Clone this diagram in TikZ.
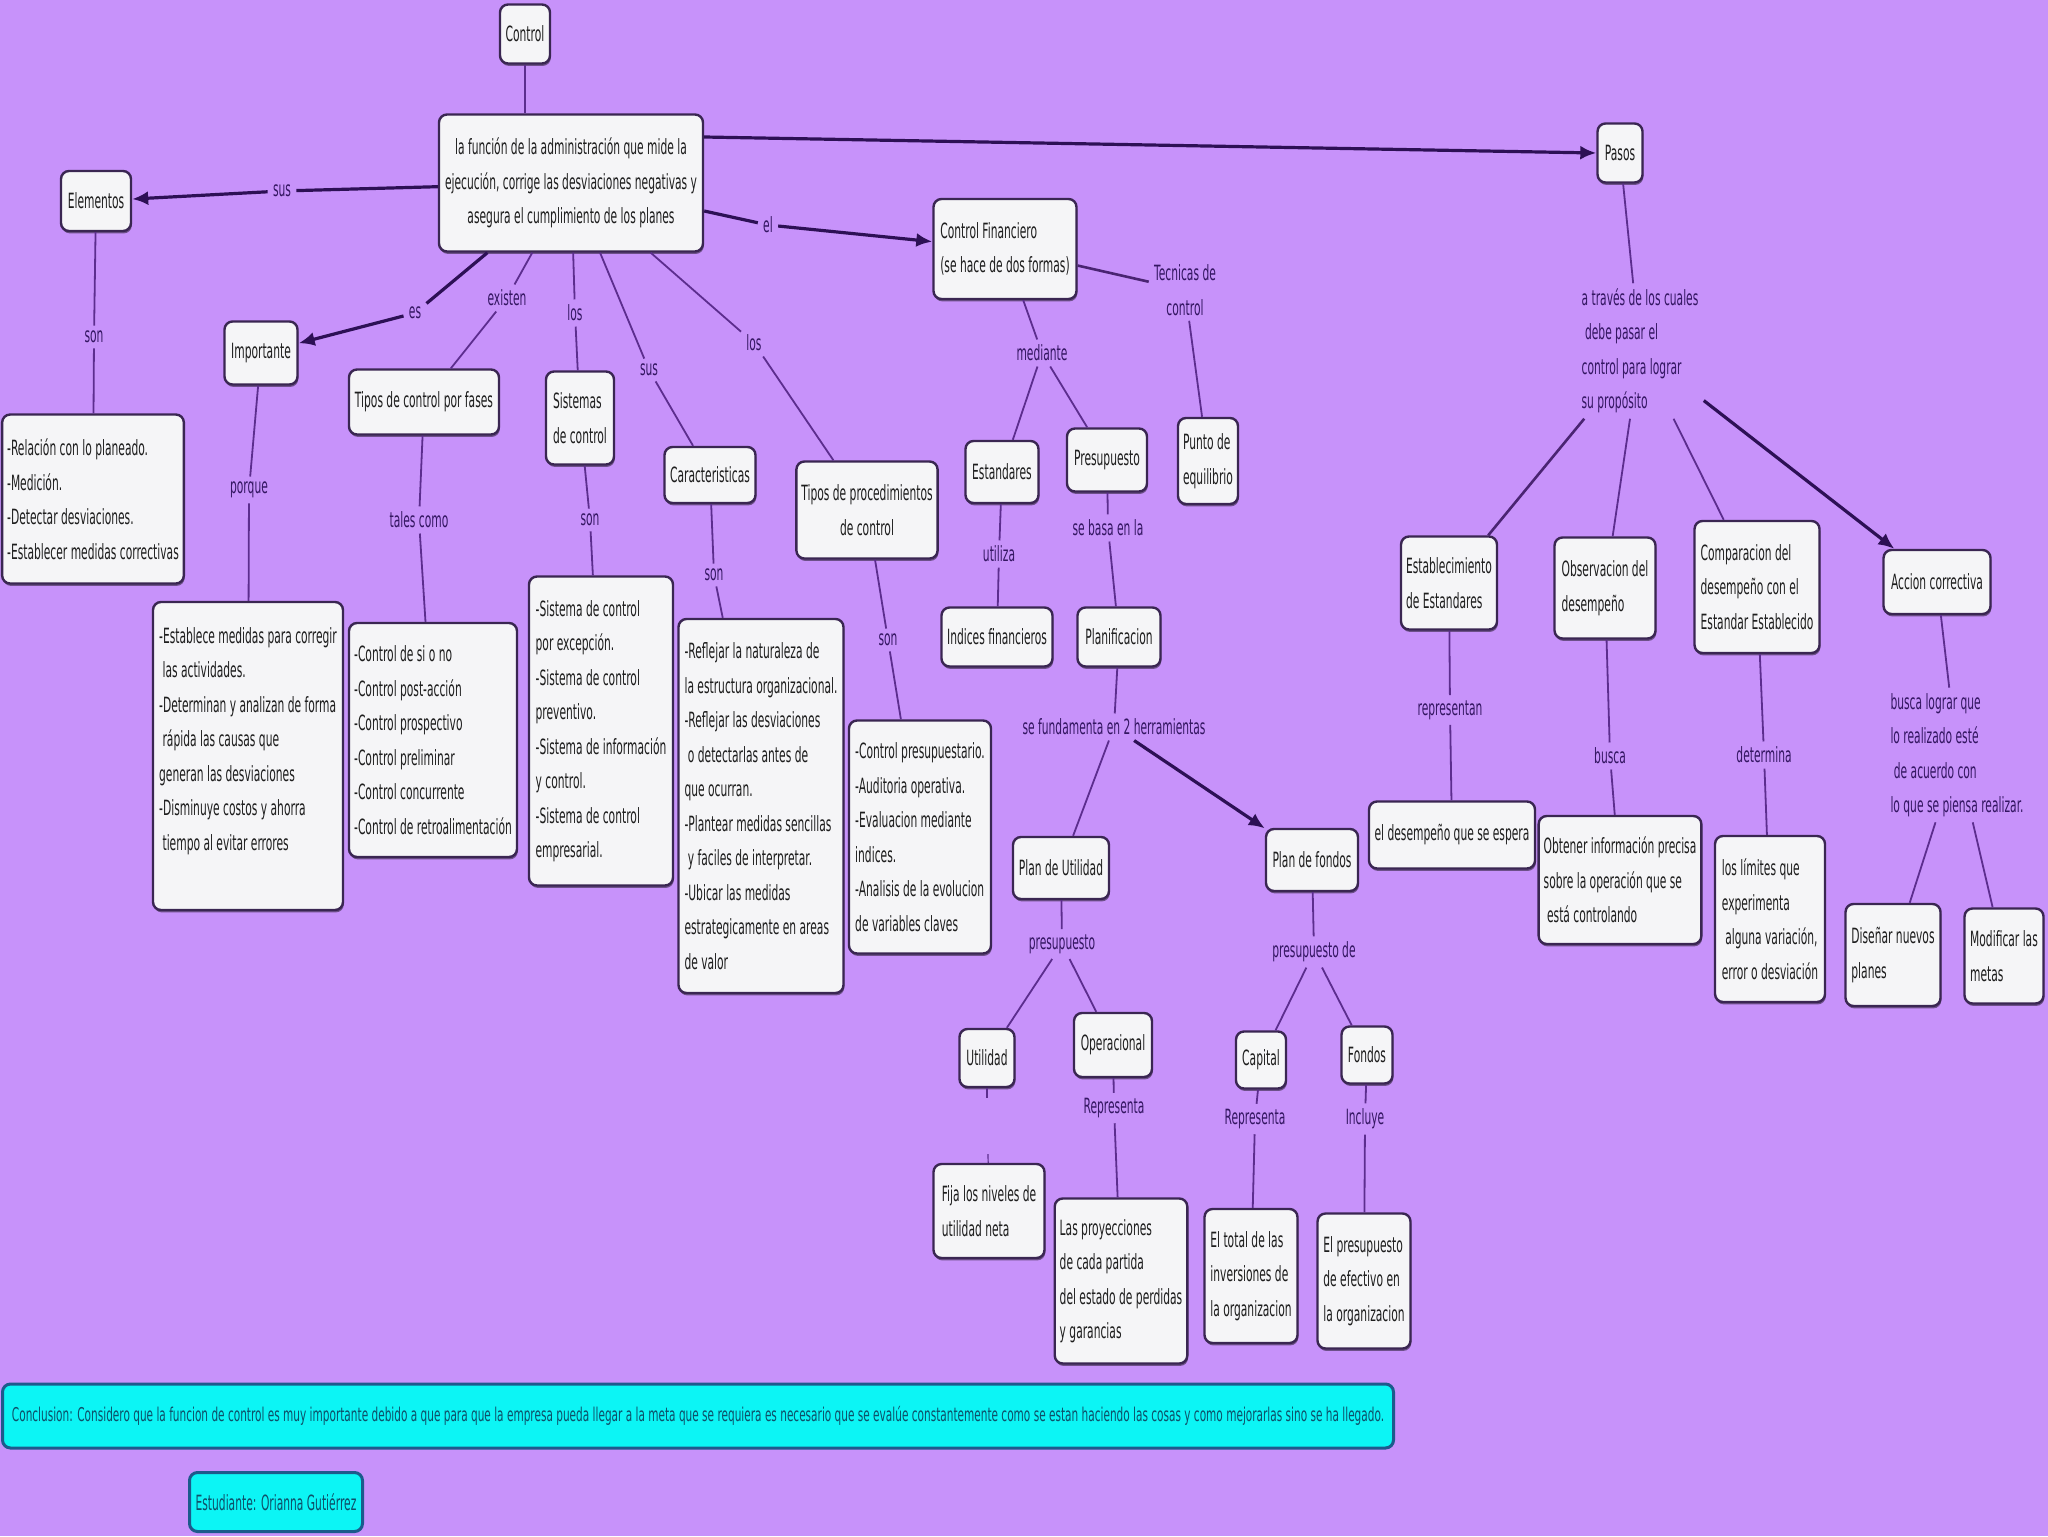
\documentclass[tikz,border=0pt]{standalone}
\usepackage{fontspec}
\setmainfont[FakeStretch=0.51]{DejaVu Sans}
\usepackage{graphicx}
\usetikzlibrary{arrows.meta,shadows}
\definecolor{bgc}{RGB}{199,146,250}
\definecolor{boxfill}{RGB}{245,245,247}
\definecolor{boxline}{RGB}{58,38,82}
\definecolor{txtc}{RGB}{30,30,30}
\definecolor{lblc}{RGB}{52,22,98}
\definecolor{lnc}{RGB}{92,45,142}
\definecolor{arrc}{RGB}{45,16,85}
\definecolor{cyanfill}{RGB}{12,245,245}
\definecolor{cyanline}{RGB}{29,90,140}
\definecolor{tealtxt}{RGB}{14,80,105}
\newcommand\fs{\fontsize{10.5}{17.25}\selectfont}
\begin{document}
\begin{tikzpicture}[x=0.5pt,y=-0.5pt,
  box/.style={draw=boxline, fill=boxfill, rounded corners=4pt, line width=1.2pt,
    inner sep=2.5pt, align=center, font=\fs, text=txtc,
    drop shadow={shadow xshift=0.4pt, shadow yshift=-1.2pt, fill=black, opacity=0.45}},
  bx/.style 2 args={box, minimum width=#1, minimum height=#2},
  lbox/.style 2 args={bx={#1}{#2}, align=left},
  lbl/.style={text=lblc, inner sep=2.5pt, align=center, font=\fs},
  ln/.style={draw=lnc, line width=0.9pt},
  mid/.style={draw=lnc!80!black, line width=1.3pt},
  thk/.style={draw=arrc, line width=1.6pt},
  arr/.style={thk, -{Latex[length=8pt,width=7pt]}},
  cbox/.style={draw=cyanline, fill=cyanfill, rounded corners=4pt, line width=1.5pt,
    text=tealtxt, font=\fs, inner sep=2pt}
]
\fill[bgc] (0,0) rectangle (2048,1536);
\useasboundingbox (0,0) rectangle (2048,1536);

% ---- boxes ----
\node[bx={25pt}{29.5pt}] (ctrl) at (525,34) {Control};
\node[bx={132pt}{68.5pt}] (main) at (571,183) {la función de la administración que mide la\\ejecución, corrige las desviaciones negativas y\\asegura el cumplimiento de los planes};
\node[bx={22.5pt}{29.5pt}] (pasos) at (1620,153) {Pasos};
\node[bx={35pt}{30pt}] (elem) at (96,201) {Elementos};
\node[bx={36.5pt}{31.5pt}] (imp) at (261,353) {Importante};
\node[bx={75pt}{32.5pt}] (tfases) at (424,402) {Tipos de control por fases};
\node[lbox={34pt}{46.5pt}] (sist) at (580,418) {Sistemas\\de control};
\node[bx={45.5pt}{28pt}] (car) at (710,475) {Caracteristicas};
\node[bx={70.5pt}{48.5pt}] (tproc) at (867,510) {Tipos de procedimientos\\de control};
\node[lbox={71.5pt}{50pt}] (cfin) at (1005,249) {Control Financiero\\(se hace de dos formas)};
\node[bx={36.5pt}{31pt}] (estd) at (1002,472) {Estandares};
\node[bx={40pt}{31.5pt}] (presu) at (1107,460) {Presupuesto};
\node[lbox={30pt}{43pt}] (punto) at (1208,461) {Punto de\\equilibrio};
\node[lbox={90.5pt}{84.5pt}] (rel) at (93,499) {-Relación con lo planeado.\\-Medición.\\-Detectar desviaciones.\\-Establecer medidas correctivas};
\node[bx={55.5pt}{29.5pt}] (indic) at (997,637) {Indices financieros};
\node[bx={41.5pt}{29.5pt}] (planif) at (1119,637) {Planificacion};
\node[lbox={95pt}{154pt}] (estab) at (248,756) {-Establece medidas para corregir\\\ las actividades.\\-Determinan y analizan de forma\\\ rápida las causas que\\generan las desviaciones\\-Disminuye costos y ahorra\\\ tiempo al evitar errores\\ \mbox{}};
\node[lbox={84pt}{117pt}] (sino) at (433,740) {-Control de si o no\\-Control post-acción\\-Control prospectivo\\-Control preliminar\\-Control concurrente\\-Control de retroalimentación};
\node[lbox={72pt}{154.5pt}] (slist) at (601,731) {-Sistema de control\\por excepción.\\-Sistema de control\\preventivo.\\-Sistema de información\\y control.\\-Sistema de control\\empresarial.};
\node[lbox={82.5pt}{187pt}] (refl) at (761,806) {-Reflejar la naturaleza de\\la estructura organizacional.\\-Reflejar las desviaciones\\\ o detectarlas antes de\\que ocurran.\\-Plantear medidas sencillas\\\ y faciles de interpretar.\\-Ubicar las medidas\\estrategicamente en areas\\de valor};
\node[lbox={71pt}{116.5pt}] (cpres) at (920,837) {-Control presupuestario.\\-Auditoria operativa.\\-Evaluacion mediante\\indices.\\-Analisis de la evolucion\\de variables claves};
\node[bx={48pt}{31pt}] (putil) at (1061,868) {Plan de Utilidad};
\node[bx={46pt}{31pt}] (pfond) at (1312,860) {Plan de fondos};
\node[bx={27.5pt}{29pt}] (util) at (987,1058) {Utilidad};
\node[bx={39pt}{32pt}] (oper) at (1113,1045) {Operacional};
\node[bx={25pt}{28.5pt}] (capi) at (1261,1060) {Capital};
\node[bx={25.5pt}{28.5pt}] (fond) at (1367,1055) {Fondos};
\node[lbox={55.5pt}{47pt}] (fija) at (989,1211) {Fija los niveles de\\utilidad neta};
\node[lbox={65.5pt}{82.5pt}] (proy) at (1121,1281) {Las proyecciones\\de cada partida\\del estado de perdidas\\y garancias};
\node[lbox={46.5pt}{67pt}] (etot) at (1251,1276) {El total de las\\inversiones de\\la organizacion};
\node[lbox={46.5pt}{67.5pt}] (epres) at (1364,1281) {El presupuesto\\de efectivo en\\la organizacion};
\node[lbox={48pt}{46.5pt}] (estb) at (1449,583) {Establecimiento\\de Estandares};
\node[lbox={50.5pt}{50.5pt}] (obs) at (1605,588) {Observacion del\\desempeño};
\node[lbox={62.5pt}{66pt}] (comp) at (1757,587) {Comparacion del\\desempeño con el\\Estandar Establecido};
\node[bx={53.5pt}{32pt}] (acc) at (1937,582) {Accion correctiva};
\node[bx={83pt}{33.5pt}] (desp) at (1452,835) {el desempeño que se espera};
\node[lbox={81pt}{64pt}] (obt) at (1620,880) {Obtener información precisa\\sobre la operación que se\\\ está controlando};
\node[lbox={55pt}{83pt}] (lim) at (1770,919) {los límites que\\experimenta\\\ alguna variación,\\error o desviación};
\node[lbox={47.5pt}{51pt}] (dis) at (1893,955) {Diseñar nuevos\\planes};
\node[lbox={39.5pt}{47.5pt}] (mod) at (2004,956) {Modificar las\\metas};
\node[cbox, minimum width=695.5pt, minimum height=32pt] (concl) at (698,1416) {\resizebox{686pt}{\height}{\fontsize{9.5}{11}\selectfont Conclusion: Considero que la funcion de control es muy importante debido a que para que la empresa pueda llegar a la meta que se requiera es necesario que se evalúe constantemente como se estan haciendo las cosas y como mejorarlas sino se ha llegado.}};
\node[cbox, minimum width=86.5pt, minimum height=29.5pt] (estu) at (276,1502) {Estudiante: Orianna Gutiérrez};

% ---- labels ----
\node[lbl] (l-sus1) at (282,191) {sus};
\node[lbl] (l-el) at (768,225) {el};
\node[lbl] (l-tec) at (1185,290) {Tecnicas de\\control};
\node[lbl] (l-sonel) at (94,337) {son};
\node[lbl] (l-es) at (415,313) {es};
\node[lbl] (l-exi) at (507,298) {existen};
\node[lbl] (l-los1) at (575,313) {los};
\node[lbl] (l-sus2) at (649,370) {sus};
\node[lbl] (l-los2) at (754,343) {los};
\node[lbl] (l-med) at (1042,353) {mediante};
\node[lbl] (l-porq) at (249,490) {porque};
\node[lbl] (l-tales) at (419,520) {tales como};
\node[lbl] (l-sonsis) at (590,520) {son};
\node[lbl] (l-soncar) at (714,575) {son};
\node[lbl] (l-sontp) at (888,640) {son};
\node[lbl] (l-util) at (999,554) {utiliza};
\node[lbl] (l-basa) at (1108,528) {se basa en la};
\node[lbl] (l-fund) at (1114,727) {se fundamenta en 2 herramientas};
\node[lbl] (l-pre1) at (1062,944) {presupuesto};
\node[lbl] (l-pre2) at (1314,952) {presupuesto de};
\node[lbl] (l-rep1) at (1114,1108) {Representa};
\node[lbl] (l-rep2) at (1255,1119) {Representa};
\node[lbl] (l-incl) at (1365,1119) {Incluye};
\node[lbl, align=left] (l-atr) at (1640,351) {a través de los cuales\\\ debe pasar el\\control para lograr\\su propósito};
\node[lbl] (l-repr) at (1450,710) {representan};
\node[lbl] (l-busca) at (1610,756) {busca};
\node[lbl] (l-det) at (1764,755) {determina};
\node[lbl, align=left] (l-blog) at (1957,755) {busca lograr que\\lo realizado esté\\\ de acuerdo con\\lo que se piensa realizar.};
\coordinate (u-a) at (987,1098);
\coordinate (u-b) at (988,1154);

% ---- connectors ----
\draw[ln] (ctrl) -- (ctrl |- main.north);
\draw[thk] (main) -- (l-sus1);
\draw[arr] (l-sus1) -- (elem);
\draw[arr] ([yshift=23pt]main.east) -- (pasos.west);
\draw[thk] ([yshift=-14pt]main.east) -- (l-el);
\draw[arr] (l-el) -- (cfin);
\draw[thk] (main) -- (l-es);
\draw[arr] (l-es) -- (imp);
\draw[ln] (main) -- (l-exi);
\draw[ln] (l-exi) -- (tfases);
\draw[ln] (main) -- (l-los1);
\draw[ln] (l-los1) -- (sist);
\draw[ln] (main) -- (l-sus2);
\draw[ln] (l-sus2) -- (car);
\draw[ln] (main) -- (l-los2);
\draw[ln] (l-los2) -- (tproc);
\draw[ln] (elem) -- (l-sonel);
\draw[ln] (l-sonel) -- (rel);
\draw[ln] (imp) -- (l-porq);
\draw[ln] (l-porq) -- (estab);
\draw[ln] (tfases) -- (l-tales);
\draw[ln] (l-tales) -- (sino);
\draw[ln] (sist) -- (l-sonsis);
\draw[ln] (l-sonsis) -- (slist);
\draw[ln] (car) -- (l-soncar);
\draw[ln] (l-soncar) -- (refl);
\draw[ln] (tproc) -- (l-sontp);
\draw[ln] (l-sontp) -- (cpres);
\draw[ln] (cfin) -- (l-med);
\draw[ln] (l-med) -- (estd);
\draw[ln] (l-med) -- (presu);
\draw[mid] (cfin) -- (l-tec);
\draw[ln] (l-tec) -- (punto);
\draw[ln] (estd) -- (l-util);
\draw[ln] (l-util) -- (indic);
\draw[ln] (presu) -- (l-basa);
\draw[ln] (l-basa) -- (planif);
\draw[ln] (planif) -- (l-fund);
\draw[ln] (l-fund) -- (putil);
\draw[arr] (l-fund) -- (pfond);
\draw[ln] (putil) -- (l-pre1);
\draw[ln] (l-pre1) -- (util);
\draw[ln] (l-pre1) -- (oper);
\draw[ln] (pfond) -- (l-pre2);
\draw[ln] (l-pre2) -- (capi);
\draw[ln] (l-pre2) -- (fond);
\draw[ln, line width=0.6pt] (util) -- (u-a);
\draw[ln, line width=0.6pt] (u-b) -- (fija);
\draw[ln] (oper) -- (l-rep1);
\draw[ln] (l-rep1) -- (proy);
\draw[ln] (capi) -- (l-rep2);
\draw[ln] (l-rep2) -- (etot);
\draw[ln] (fond) -- (l-incl);
\draw[ln] (l-incl) -- (epres);
\draw[ln] (pasos) -- (l-atr);
\draw[mid] (l-atr) -- (estb);
\draw[ln] (l-atr) -- (obs);
\draw[ln] (l-atr) -- (comp);
\draw[arr] (l-atr) -- (acc);
\draw[ln] (estb) -- (l-repr);
\draw[ln] (l-repr) -- (desp);
\draw[ln] (obs) -- (l-busca);
\draw[ln] (l-busca) -- (obt);
\draw[ln] (comp) -- (l-det);
\draw[ln] (l-det) -- (lim);
\draw[ln] (acc) -- (l-blog);
\draw[ln] (l-blog) -- (dis);
\draw[ln] (l-blog) -- (mod);
\end{tikzpicture}
\end{document}
